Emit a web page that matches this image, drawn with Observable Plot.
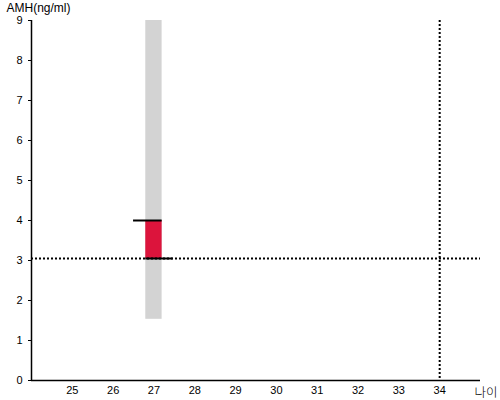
<!DOCTYPE html>
<html><head><meta charset="utf-8">
<script src="https://cdn.jsdelivr.net/npm/d3@7"></script>
<script src="https://cdn.jsdelivr.net/npm/@observablehq/plot@0.6"></script>
<style>body{margin:0;background:#fff}</style>
</head><body><div id="chart"></div>
<script>
const xDomain = [24, 35];
const yDomain = [0, 9];
const xTicks = [25, 26, 27, 28, 29, 30, 31, 32, 33, 34];
const yTicks = [0, 1, 2, 3, 4, 5, 6, 7, 8, 9];
const yLabel = "AMH(ng/ml)";
const xLabel = "나이";
// range band for the age
const band = [{x1: 26.8, x2: 27.2, y1: 1.53, y2: 9}];
// value bar between my value and average
const bar = [{x1: 26.8, x2: 27.2, y1: 3.05, y2: 4.0}];
const segments = [{x1: 26.5, x2: 27.2, y: 4.0}, {x1: 26.8, x2: 27.47, y: 3.05}];
const refAMH = [3.05];
const refAge = [34];

const chart = Plot.plot({
  width: 500, height: 400,
  marginLeft: 31, marginRight: 20, marginTop: 20, marginBottom: 20,
  style: {fontFamily: "Liberation Sans, Arial, sans-serif", fontSize: "11px", color: "#000", background: "#fff"},
  x: {domain: xDomain, ticks: xTicks, tickSize: 0, tickPadding: 6, label: null},
  y: {domain: yDomain, ticks: yTicks, tickSize: 3, tickPadding: 6, label: null},
  marks: [
    Plot.rect(band, {x1: "x1", x2: "x2", y1: "y1", y2: "y2", fill: "lightgray"}),
    Plot.rect(bar, {x1: "x1", x2: "x2", y1: "y1", y2: "y2", fill: "crimson"}),
    Plot.ruleY(segments, {x1: "x1", x2: "x2", y: "y", stroke: "black", strokeWidth: 2}),
    Plot.ruleY(refAMH, {stroke: "black", strokeWidth: 2, strokeDasharray: "2,2"}),
    Plot.ruleX(refAge, {stroke: "black", strokeWidth: 2, strokeDasharray: "2,2"}),
    Plot.ruleX([xDomain[0]], {stroke: "black", strokeWidth: 1.5}),
    Plot.ruleY([yDomain[0]], {stroke: "black", strokeWidth: 1.5}),
    Plot.text([yLabel], {frameAnchor: "top-left", dx: -25, dy: -17, textAnchor: "start", lineAnchor: "top", fontSize: 12}),
    Plot.text([xLabel], {frameAnchor: "bottom-right", dx: -6, dy: 12, textAnchor: "start", lineAnchor: "middle", fontSize: 12.5, fontFamily: "Noto Sans CJK KR", fontWeight: 300})
  ]
});
document.getElementById("chart").appendChild(chart);
</script></body></html>
